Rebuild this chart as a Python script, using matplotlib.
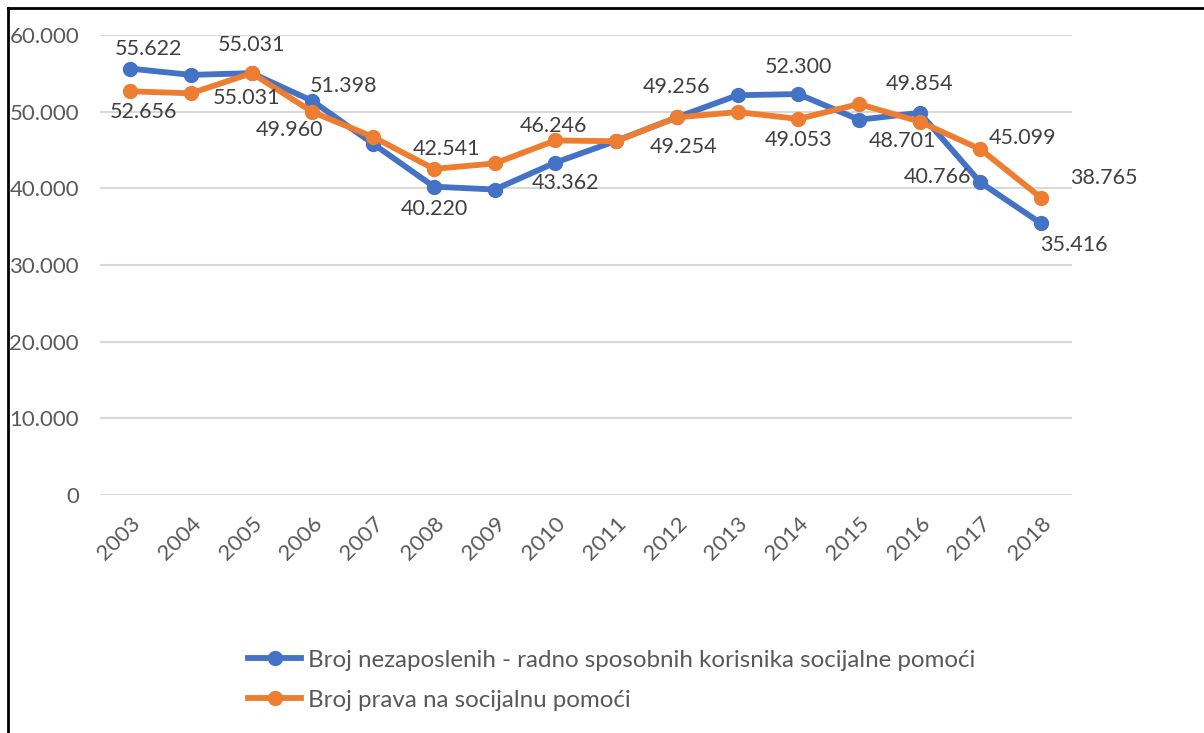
import matplotlib
matplotlib.use('Agg')
from matplotlib import pyplot as plt
from matplotlib.lines import Line2D
from matplotlib.ticker import FuncFormatter

plt.rcParams['font.family'] = ['Lato', 'DejaVu Sans']

years = ['2003', '2004', '2005', '2006', '2007', '2008', '2009', '2010',
         '2011', '2012', '2013', '2014', '2015', '2016', '2017', '2018']
nezaposleni = [55622, 54800, 55031, 51398, 45800, 40220, 39850, 43362,
               46200, 49256, 52150, 52300, 48950, 49854, 40766, 35416]
prava = [52656, 52400, 55031, 49960, 46700, 42541, 43250, 46246,
         46150, 49254, 49950, 49053, 51000, 48701, 45099, 38765]
naziv_1 = 'Broj nezaposlenih - radno sposobnih korisnika socijalne pomoći'
naziv_2 = 'Broj prava na socijalnu pomoći'

# koje tačke imaju oznaku i gdje (pomak u pikselima)
oznake_1 = {0: (18, 20), 2: (0, 28), 3: (31, 15), 5: (0, -22), 7: (10, -20),
            9: (0, 30), 11: (0, 27), 13: (0, 29), 14: (-43, 5), 15: (33, -22)}
oznake_2 = {0: (13, -21), 2: (-5, -25), 3: (-23, -18), 5: (13, 20), 7: (-2, 14),
            9: (7, -30), 11: (0, -21), 13: (-17, -19), 14: (42, 11), 15: (63, 20)}

plava = '#4472C4'
narandzasta = '#ED7D31'


def tacka(v):
    return f'{v:,}'.replace(',', '.')


fig = plt.figure(figsize=(12.04, 7.33), dpi=100)
ax = fig.add_axes([0.083, 0.3247, 0.807, 0.6275])

x = list(range(len(years)))
ax.plot(x, nezaposleni, color=plava, lw=4.2, marker='o', ms=10, label=naziv_1, zorder=3)
ax.plot(x, prava, color=narandzasta, lw=4.2, marker='o', ms=10, label=naziv_2, zorder=4)

for vrijednosti, oznake in ((nezaposleni, oznake_1), (prava, oznake_2)):
    for i, (dx, dy) in oznake.items():
        ax.annotate(tacka(vrijednosti[i]), (i, vrijednosti[i]), xytext=(dx, dy),
                    textcoords='offset pixels', ha='center', va='center',
                    fontsize=15.5, color='#404040', zorder=5)

ax.set_xlim(-0.5, len(years) - 0.5)
ax.set_ylim(0, 60000)
ax.set_yticks(range(0, 60001, 10000))
ax.yaxis.set_major_formatter(FuncFormatter(lambda v, p: tacka(int(v))))
ax.set_xticks(x)
ax.set_xticklabels(years, rotation=45, ha='right', rotation_mode='anchor')
ax.tick_params(length=0, labelsize=16, colors='#595959')
ax.tick_params(axis='y', pad=15)
ax.tick_params(axis='x', pad=13)
ax.grid(axis='y', color='#D9D9D9', lw=1.5)
ax.set_axisbelow(True)
for s in ax.spines.values():
    s.set_visible(False)

fig.legend(loc='upper left', bbox_to_anchor=(0.198, 0.127), frameon=False,
           fontsize=17.4, labelcolor='#595959', handlelength=2.2,
           handletextpad=0.3, labelspacing=0.8, borderaxespad=0)

# okvir
fig.add_artist(Line2D([0.0066, 0.0066], [0, 0.989], color='black', lw=2))
fig.add_artist(Line2D([0.0066, 1], [0.989, 0.989], color='black', lw=2))

plt.savefig('out.png', dpi=100)
